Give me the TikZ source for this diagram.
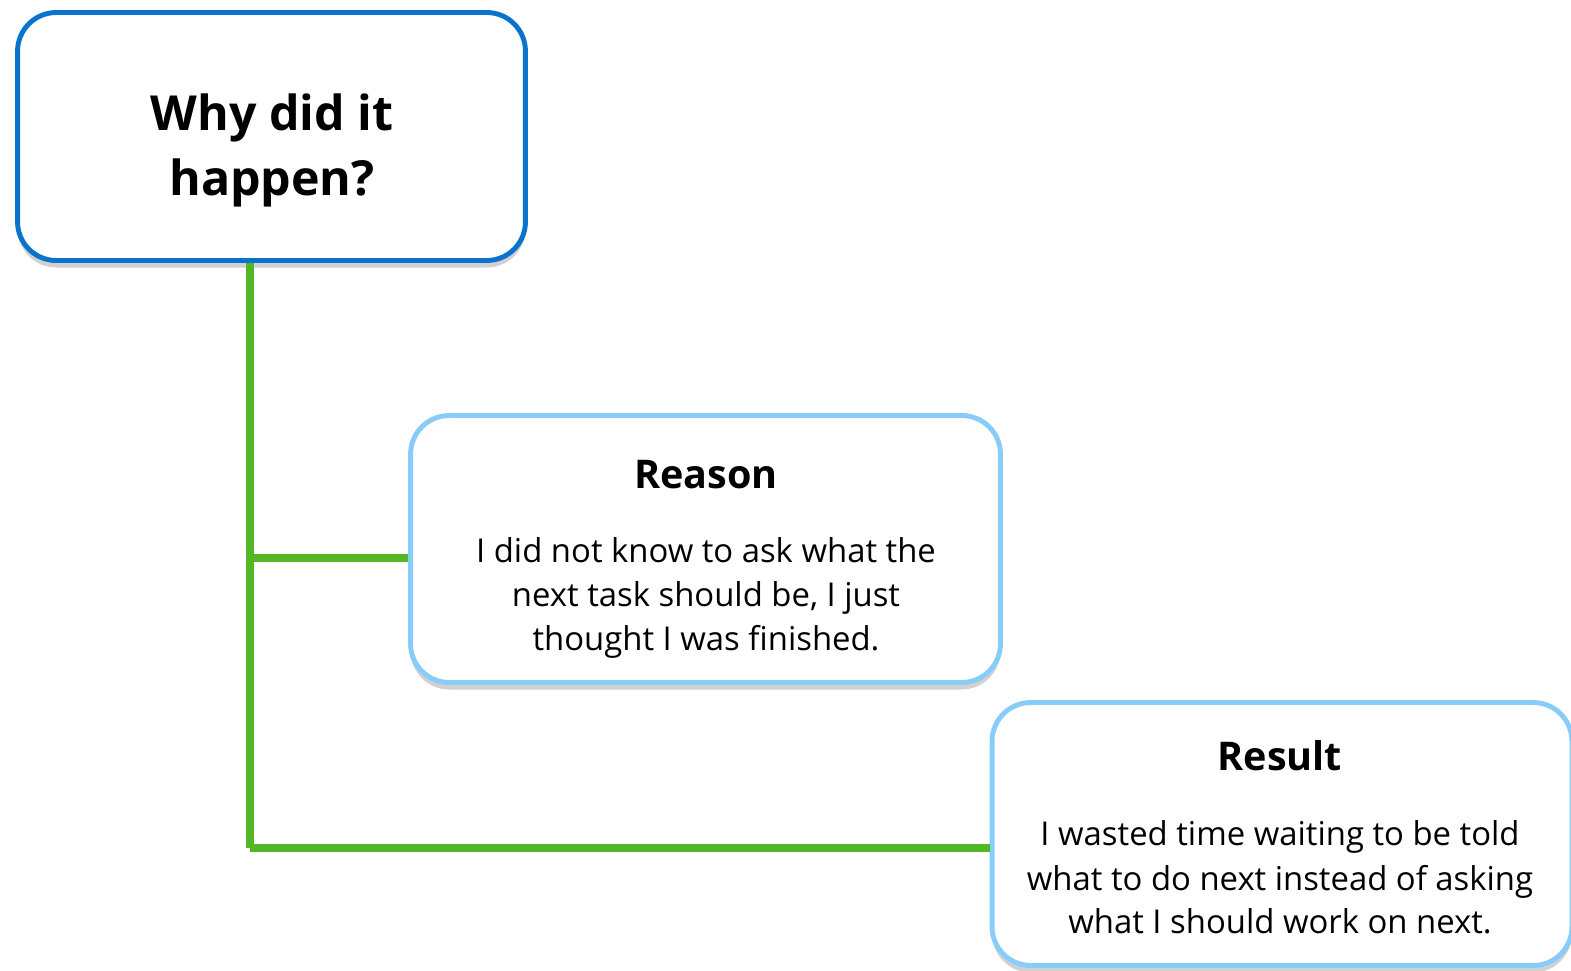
\documentclass[tikz,border=0pt]{standalone}
\usepackage{fontspec}
\setmainfont{Open Sans}
\usetikzlibrary{shadows}
\definecolor{darkblue}{HTML}{0A74CC}
\definecolor{lightblue}{HTML}{88CCFA}
\definecolor{branchgreen}{HTML}{53B625}
\tikzset{
  card/.style={draw, rounded corners=22pt, fill=white, line width=2.8pt,
    drop shadow={shadow xshift=0pt, shadow yshift=-4pt, opacity=0.3, fill=black!60}},
  topcard/.style={card, draw=darkblue},
  subcard/.style={card, draw=lightblue},
  bigtitle/.style={font=\fontsize{27.5}{33}\selectfont\bfseries, anchor=base},
  cardtitle/.style={font=\fontsize{22.5}{27}\selectfont\bfseries, anchor=base},
  bodytext/.style={font=\fontsize{18.7}{25}\selectfont, anchor=base},
  branch/.style={draw=branchgreen, line width=4pt}
}
\begin{document}
\begin{tikzpicture}[x=0.02cm, y=-0.02cm]
\useasboundingbox (0,0) rectangle (1571,970);
\clip (0,0) rectangle (1571,970);
\coordinate (j1) at (250,558);
\coordinate (j2) at (250,848);
% boxes
\node[topcard, minimum width=10.16cm, minimum height=4.96cm] (why) at (271.5,136.5) {};
\node[subcard, minimum width=11.8cm, minimum height=5.34cm] (reason) at (705.5,549) {};
\node[subcard, minimum width=11.6cm, minimum height=5.26cm] (result) at (1282,834) {};
% connectors
\draw[branch] (why.south -| j1) -- (j2);
\draw[branch] (j1) -- (j1 -| reason.west);
\draw[branch] (j2) -- (j2 -| result.west);
% texts
\node[bigtitle] (whyA) at (272,130) {Why did it};
\node[bigtitle] (whyB) at (272,195) {happen?};
\node[cardtitle] (reasonT) at (706,488) {Reason};
\node[bodytext] (reasonA) at (706,562) {I did not know to ask what the};
\node[bodytext] (reasonB) at (706,606) {next task should be, I just};
\node[bodytext] (reasonC) at (706,650) {thought I was finished.};
\node[cardtitle] (resultT) at (1280,770) {Result};
\node[bodytext] (resultA) at (1280,845) {I wasted time waiting to be told};
\node[bodytext] (resultB) at (1280,890) {what to do next instead of asking};
\node[bodytext] (resultC) at (1280,933) {what I should work on next.};
\end{tikzpicture}
\end{document}
